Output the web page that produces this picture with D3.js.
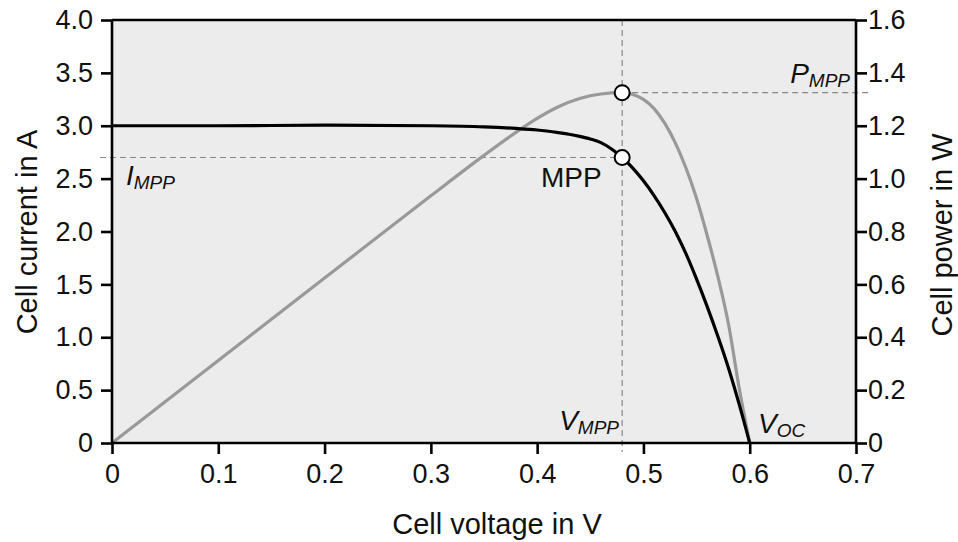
<!DOCTYPE html>
<html>
<head>
<meta charset="utf-8">
<script src="https://cdn.jsdelivr.net/npm/d3@7"></script>
<style>
  body { margin: 0; background: #fff; }
  text { font-family: "Liberation Sans", Arial, sans-serif; fill: #111; }
</style>
</head>
<body>
<div id="chart"></div>
<script>
// current (I-V) curve
let arrVoltI = [0, 0.1, 0.2, 0.3, 0.35, 0.38, 0.40, 0.42, 0.43, 0.44, 0.45, 0.46, 0.47, 0.48, 0.49, 0.50, 0.51, 0.52, 0.53, 0.54, 0.55, 0.56, 0.57, 0.58, 0.59, 0.60];
let arrCurrent = [3.0, 3.0, 3.005, 3.0, 2.99, 2.975, 2.96, 2.935, 2.92, 2.90, 2.875, 2.84, 2.78, 2.70, 2.60, 2.48, 2.34, 2.18, 2.00, 1.79, 1.55, 1.29, 1.01, 0.71, 0.37, 0];

// power curve
let arrVoltP = [0, 0.1, 0.2, 0.3, 0.35, 0.38, 0.40, 0.42, 0.44, 0.46, 0.48, 0.49, 0.50, 0.51, 0.52, 0.53, 0.54, 0.55, 0.56, 0.57, 0.58, 0.59, 0.60];
let arrPower = [0, 0.312, 0.624, 0.935, 1.088, 1.175, 1.228, 1.272, 1.303, 1.32, 1.325, 1.318, 1.30, 1.265, 1.21, 1.135, 1.04, 0.925, 0.785, 0.63, 0.45, 0.21, 0];

// maximum power point
let numVmpp = 0.48;
let numImpp = 2.70;
let numPmpp = 1.325;

// tick labels
let arrXTicks = [0, 0.1, 0.2, 0.3, 0.4, 0.5, 0.6, 0.7];
let arrXLabels = ["0", "0.1", "0.2", "0.3", "0.4", "0.5", "0.6", "0.7"];
let arrYTicks = [0, 0.5, 1.0, 1.5, 2.0, 2.5, 3.0, 3.5, 4.0];
let arrYLabels = ["0", "0.5", "1.0", "1.5", "2.0", "2.5", "3.0", "3.5", "4.0"];
let arrY2Ticks = [0, 0.2, 0.4, 0.6, 0.8, 1.0, 1.2, 1.4, 1.6];
let arrY2Labels = ["0", "0.2", "0.4", "0.6", "0.8", "1.0", "1.2", "1.4", "1.6"];

let intTotalWid = 958;
let intTotalHgt = 542;
let objMargin = { top: 20, right: 102, bottom: 99, left: 112 };
let intActiveWid = intTotalWid - objMargin.left - objMargin.right;
let intActiveHgt = intTotalHgt - objMargin.top - objMargin.bottom;

let svg = d3.select("#chart").append("svg")
  .attr("width", intTotalWid)
  .attr("height", intTotalHgt);

let g = svg.append("g")
  .attr("transform", `translate(${objMargin.left}, ${objMargin.top})`);

let fnX = d3.scaleLinear().domain([0, 0.7]).range([0, intActiveWid]);
let fnY = d3.scaleLinear().domain([0, 4.0]).range([intActiveHgt, 0]);
let fnY2 = d3.scaleLinear().domain([0, 1.6]).range([intActiveHgt, 0]);

// plot background
g.append("rect")
  .attr("width", intActiveWid)
  .attr("height", intActiveHgt)
  .attr("fill", "#ececec");

// dashed guide lines
let strDash = "6,4";
g.append("line")
  .attr("x1", fnX(numVmpp)).attr("x2", fnX(numVmpp))
  .attr("y1", 0).attr("y2", intActiveHgt + 9)
  .attr("stroke", "#888").attr("stroke-width", 1.2).attr("stroke-dasharray", strDash);
g.append("line")
  .attr("x1", -12).attr("x2", fnX(numVmpp))
  .attr("y1", fnY(numImpp)).attr("y2", fnY(numImpp))
  .attr("stroke", "#888").attr("stroke-width", 1.2).attr("stroke-dasharray", strDash);
g.append("line")
  .attr("x1", fnX(numVmpp)).attr("x2", intActiveWid + 16)
  .attr("y1", fnY2(numPmpp)).attr("y2", fnY2(numPmpp))
  .attr("stroke", "#888").attr("stroke-width", 1.2).attr("stroke-dasharray", strDash);

// curves
let fnLineI = d3.line()
  .x((d, i) => fnX(arrVoltI[i]))
  .y(d => fnY(d))
  .curve(d3.curveMonotoneX);
let fnLineP = d3.line()
  .x((d, i) => fnX(arrVoltP[i]))
  .y(d => fnY2(d))
  .curve(d3.curveMonotoneX);

g.append("path")
  .attr("d", fnLineP(arrPower))
  .attr("fill", "none").attr("stroke", "#999").attr("stroke-width", 3.2);
g.append("path")
  .attr("d", fnLineI(arrCurrent))
  .attr("fill", "none").attr("stroke", "#000").attr("stroke-width", 3.2);

// axes
let fnXAxis = d3.axisBottom(fnX).tickValues(arrXTicks).tickSize(11).tickPadding(10)
  .tickFormat((d, i) => arrXLabels[i]);
let fnYAxis = d3.axisLeft(fnY).tickValues(arrYTicks).tickSize(11).tickPadding(8)
  .tickFormat((d, i) => arrYLabels[i]);
let fnY2Axis = d3.axisRight(fnY2).tickValues(arrY2Ticks).tickSize(11).tickPadding(1)
  .tickFormat((d, i) => arrY2Labels[i]);

let gX = g.append("g").attr("transform", `translate(0, ${intActiveHgt})`).call(fnXAxis);
let gY = g.append("g").call(fnYAxis);
let gY2 = g.append("g").attr("transform", `translate(${intActiveWid}, 0)`).call(fnY2Axis);
[gX, gY, gY2].forEach(ax => {
  ax.select(".domain").attr("stroke", "#000").attr("stroke-width", 2.6);
  ax.selectAll(".tick line").attr("stroke", "#000").attr("stroke-width", 2.6);
  ax.selectAll(".tick text").attr("font-size", 27).attr("fill", "#111")
    .attr("font-family", "Liberation Sans, Arial, sans-serif");
});
gX.select(".domain").attr("d", `M0,0H${intActiveWid}`);
gY.select(".domain").attr("d", `M0,0V${intActiveHgt}`);
gY2.select(".domain").attr("d", `M0,0V${intActiveHgt}`);

// top frame line
g.append("line")
  .attr("x1", 0).attr("x2", intActiveWid)
  .attr("y1", 0).attr("y2", 0)
  .attr("stroke", "#000").attr("stroke-width", 2.6);

// MPP markers
g.append("circle")
  .attr("cx", fnX(numVmpp)).attr("cy", fnY2(numPmpp)).attr("r", 7.5)
  .attr("fill", "#fff").attr("stroke", "#000").attr("stroke-width", 2);
g.append("circle")
  .attr("cx", fnX(numVmpp)).attr("cy", fnY(numImpp)).attr("r", 7.5)
  .attr("fill", "#fff").attr("stroke", "#000").attr("stroke-width", 2);

// annotations with subscripts
function addLabel(x, y, strMain, strSub, strAnchor) {
  let t = svg.append("text")
    .attr("x", x).attr("y", y)
    .attr("text-anchor", strAnchor)
    .attr("font-style", "italic");
  t.append("tspan").attr("font-size", 28).text(strMain);
  t.append("tspan").attr("font-size", 19).attr("dy", 4).text(strSub);
}
addLabel(126, 185, "I", "MPP", "start");
addLabel(850, 83, "P", "MPP", "end");
addLabel(619, 430, "V", "MPP", "end");
addLabel(758, 433, "V", "OC", "start");

svg.append("text")
  .attr("x", 541).attr("y", 187)
  .attr("font-size", 28)
  .text("MPP");

// axis titles
svg.append("text")
  .attr("x", 497).attr("y", 534)
  .attr("text-anchor", "middle")
  .attr("font-size", 29)
  .text("Cell voltage in V");

svg.append("text")
  .attr("transform", `translate(37, 232) rotate(-90)`)
  .attr("text-anchor", "middle")
  .attr("font-size", 29)
  .text("Cell current in A");

svg.append("text")
  .attr("transform", `translate(952, 235) rotate(-90)`)
  .attr("text-anchor", "middle")
  .attr("font-size", 29)
  .text("Cell power in W");
</script>
</body>
</html>
